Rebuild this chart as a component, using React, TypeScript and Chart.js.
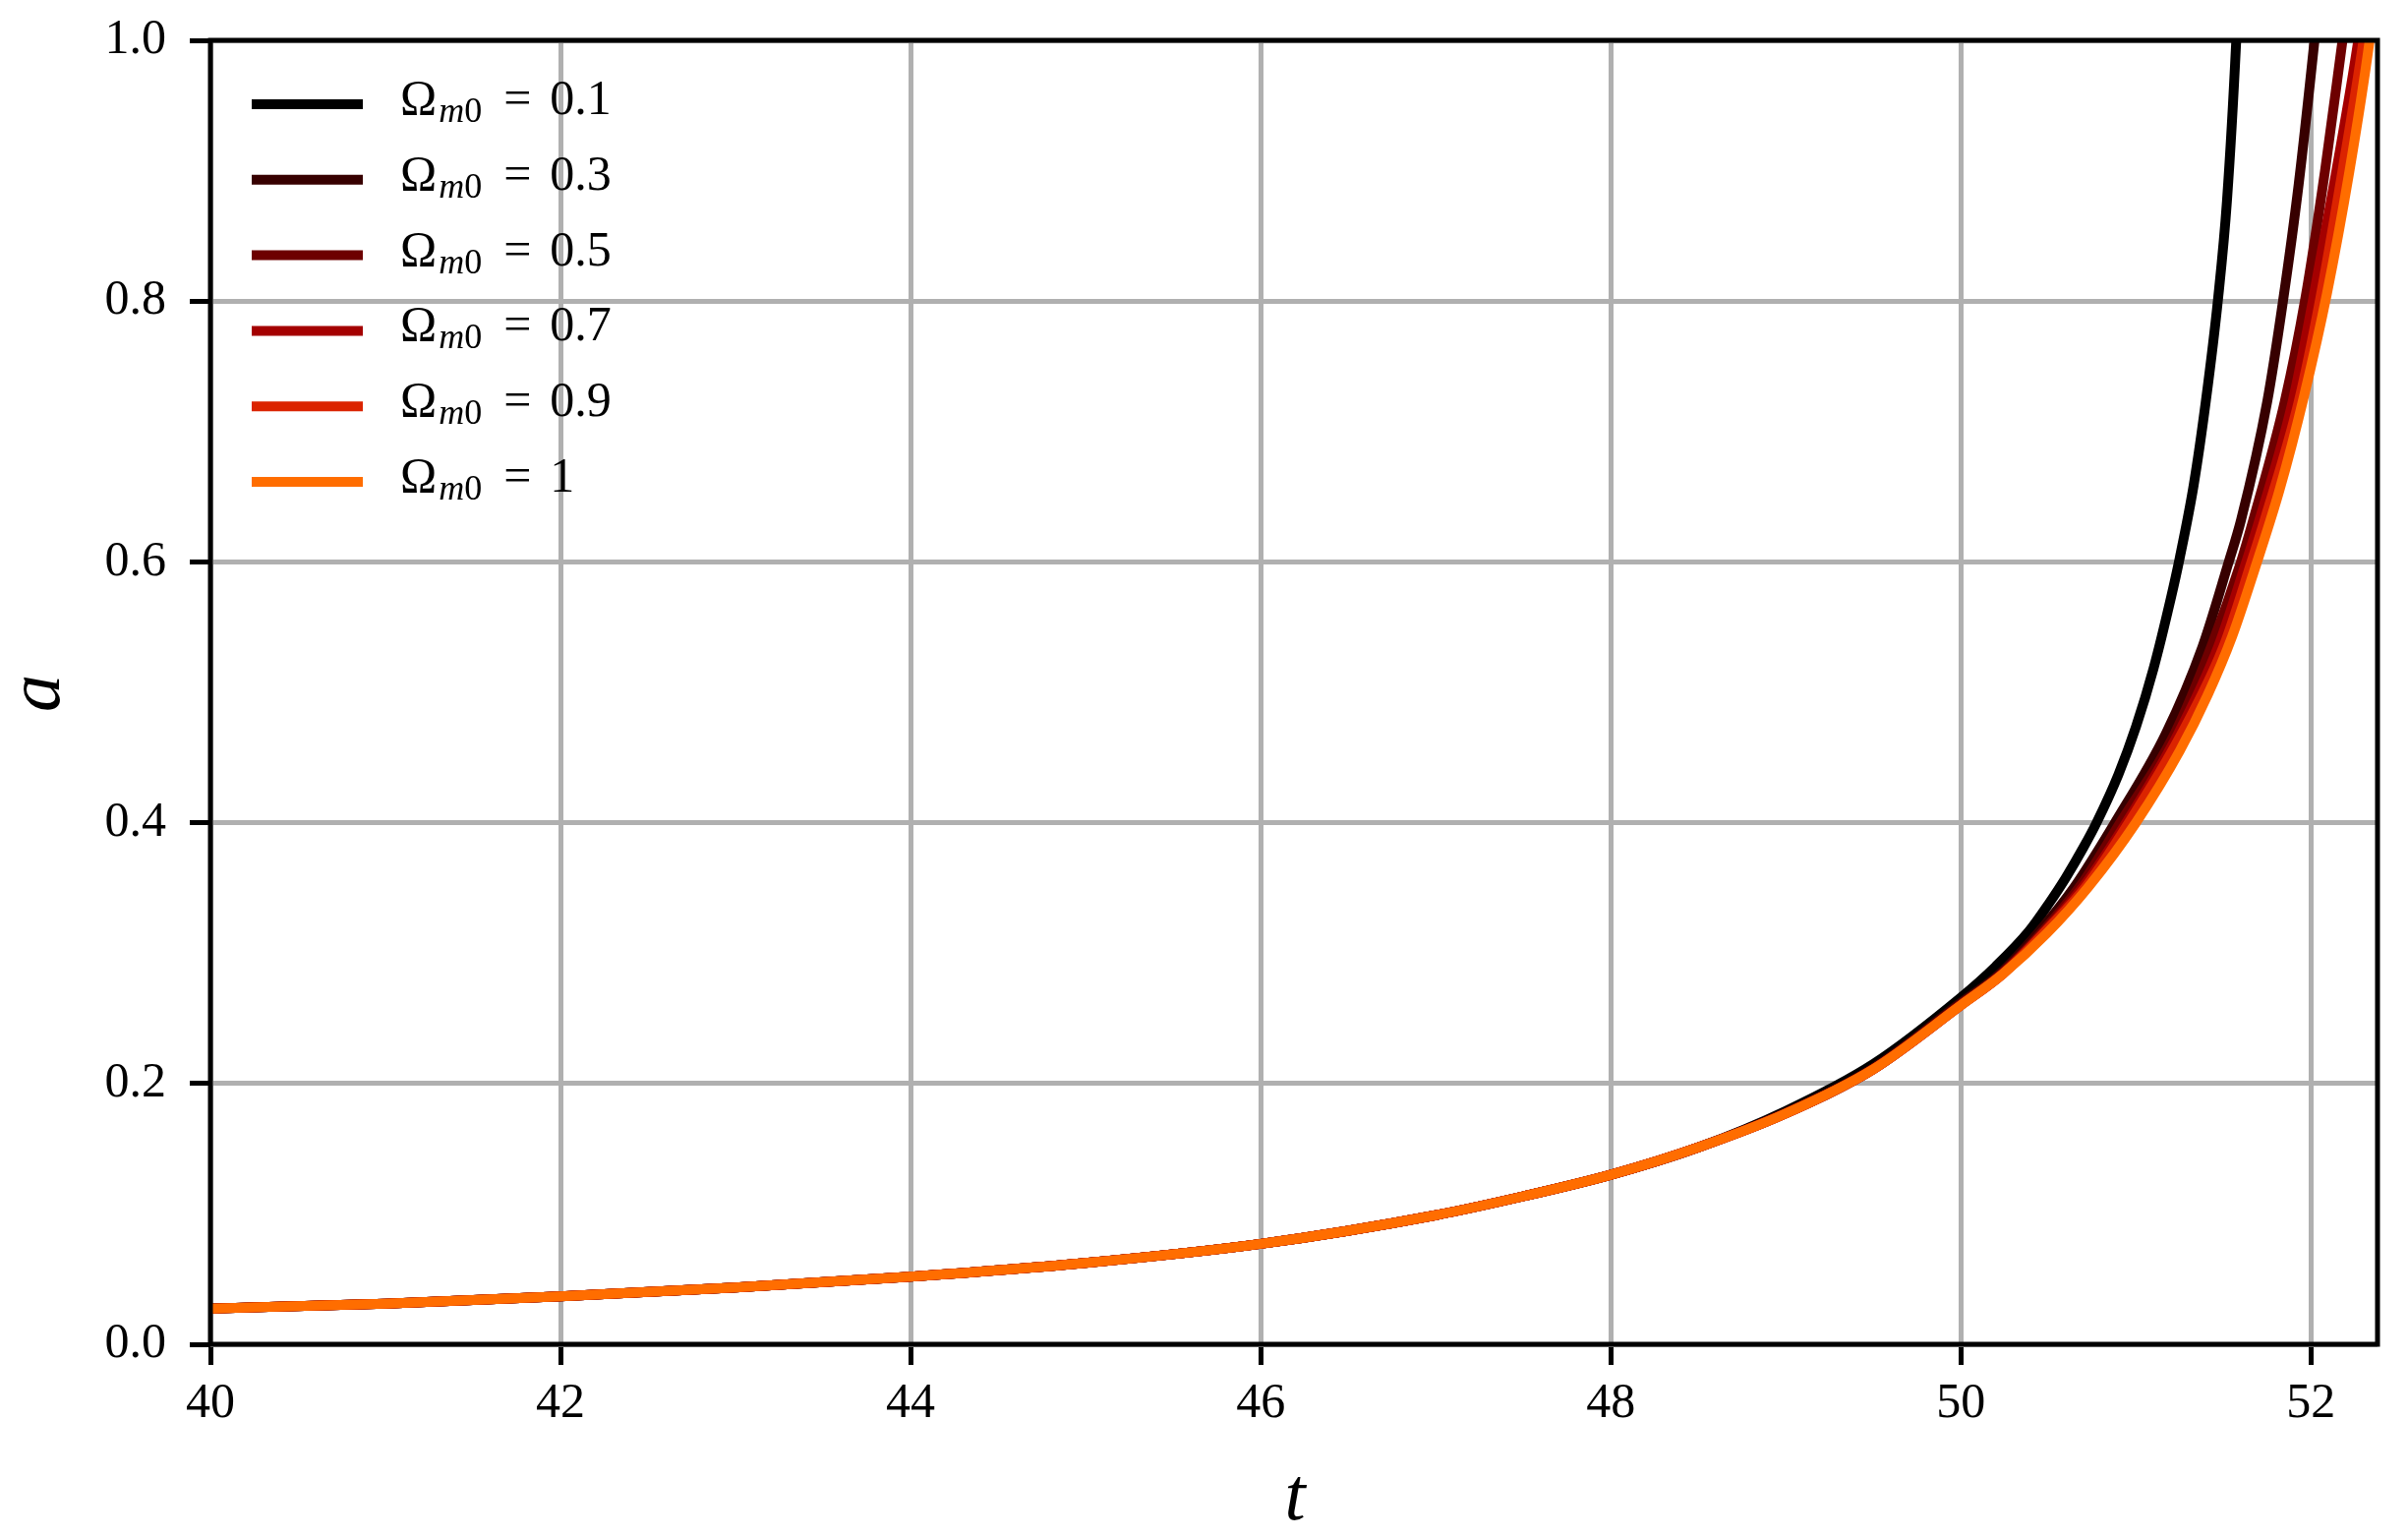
import React, { useEffect, useRef } from "react";
import { Chart, registerables } from "chart.js";

Chart.register(...registerables);

// ---- data ----
const omegaLabels = ["0.1", "0.3", "0.5", "0.7", "0.9", "1"];
const seriesColors = ["#000000", "#370000", "#6d0000", "#a40000", "#db2400", "#ff6d00"];

// shared early part (all curves coincide)
const tCommon = [40, 41, 42, 43, 44, 45, 46, 47, 47.5, 48, 48.5];
const aCommon = [0.0274, 0.0312, 0.0367, 0.0435, 0.0518, 0.0624, 0.077, 0.099, 0.1135, 0.13, 0.151];

// tails (diverging part)
const tTail01 = [49, 49.5, 50, 50.2, 50.39, 50.5, 50.6, 50.7, 50.775, 50.9, 51.0, 51.1, 51.2, 51.25, 51.33, 51.4, 51.47, 51.52, 51.573, 51.6];
const aTail01 = [0.179, 0.215, 0.266, 0.29, 0.317, 0.3375, 0.358, 0.381, 0.4, 0.437, 0.4735, 0.518, 0.5725, 0.603, 0.659, 0.724, 0.803, 0.877, 1.0, 1.086];

const tTail03 = [49, 49.5, 50, 50.22, 50.45, 50.65, 50.88, 51.17, 51.38, 51.53, 51.6, 51.75, 51.84, 51.93, 52.02, 52.05];
const aTail03 = [0.178, 0.212, 0.262, 0.284, 0.317, 0.351, 0.4, 0.468, 0.535, 0.6, 0.632, 0.723, 0.8, 0.89, 1.0, 1.04];

const tTail05 = [49, 49.5, 50, 50.23, 50.47, 50.69, 50.91, 51.22, 51.43, 51.6, 51.67, 51.85, 51.965, 52.08, 52.18, 52.22];
const aTail05 = [0.177, 0.211, 0.261, 0.284, 0.317, 0.353, 0.4, 0.468, 0.535, 0.6, 0.632, 0.723, 0.8, 0.9, 1.0, 1.04];

const tTail07 = [49, 49.5, 50, 50.235, 50.48, 50.71, 50.93, 51.24, 51.47, 51.63, 51.705, 51.895, 52.01, 52.145, 52.27, 52.31];
const aTail07 = [0.177, 0.211, 0.26, 0.284, 0.317, 0.353, 0.397, 0.468, 0.535, 0.6, 0.632, 0.723, 0.8, 0.9, 1.0, 1.04];

const tTail09 = [49, 49.5, 50, 50.24, 50.485, 50.72, 50.95, 51.26, 51.5, 51.66, 51.735, 51.93, 52.05, 52.18, 52.3, 52.34];
const aTail09 = [0.177, 0.211, 0.26, 0.284, 0.317, 0.352, 0.398, 0.468, 0.535, 0.6, 0.632, 0.723, 0.8, 0.9, 1.0, 1.04];

const tTail10 = [49, 49.5, 50, 50.24, 50.49, 50.73, 51.0, 51.25, 51.41, 51.55, 51.675, 51.82, 51.96, 52.09, 52.22, 52.335, 52.38];
const aTail10 = [0.177, 0.211, 0.26, 0.284, 0.315, 0.351, 0.4, 0.455, 0.498, 0.543, 0.593, 0.655, 0.727, 0.805, 0.9, 1.0, 1.05];

const tTails = [tTail01, tTail03, tTail05, tTail07, tTail09, tTail10];
const aTails = [aTail01, aTail03, aTail05, aTail07, aTail09, aTail10];

const xMin = 40;
const xMax = 52.38;
const xStep = 2;
const yMin = 0;
const yMax = 1;
const yStep = 0.2;

const FONT = "'Liberation Serif', 'DejaVu Serif', serif";

function buildPoints(i: number) {
  const pts: { x: number; y: number }[] = [];
  tCommon.forEach((t, k) => pts.push({ x: t, y: aCommon[k] }));
  tTails[i].forEach((t, k) => pts.push({ x: t, y: aTails[i][k] }));
  return pts;
}

const overlayPlugin = {
  id: "overlay",
  afterDatasetsDraw(chart: any) {
    const { ctx, chartArea: ca } = chart;
    ctx.save();
    // spines
    ctx.strokeStyle = "#000";
    ctx.lineWidth = 5;
    ctx.strokeRect(ca.left, ca.top, ca.right - ca.left, ca.bottom - ca.top);

    // legend
    const lx0 = ca.left + 42;
    const lx1 = ca.left + 155;
    const tx = ca.left + 193;
    const row0 = ca.top + 65;
    const rowGap = 76.8;
    omegaLabels.forEach((lab, i) => {
      const y = row0 + i * rowGap;
      ctx.strokeStyle = seriesColors[i];
      ctx.lineWidth = 10;
      ctx.lineCap = "butt";
      ctx.beginPath();
      ctx.moveTo(lx0, y);
      ctx.lineTo(lx1, y);
      ctx.stroke();

      const base = y + 10;
      ctx.fillStyle = "#000";
      ctx.textAlign = "left";
      ctx.textBaseline = "alphabetic";
      let x = tx;
      ctx.font = `50px ${FONT}`;
      ctx.fillText("Ω", x, base);
      x += ctx.measureText("Ω").width + 2;
      ctx.font = `italic 36px ${FONT}`;
      ctx.fillText("m", x, base + 8);
      x += ctx.measureText("m").width;
      ctx.font = `36px ${FONT}`;
      ctx.fillText("0", x, base + 8);
      x += ctx.measureText("0").width + 22;
      ctx.font = `50px ${FONT}`;
      ctx.fillText("=", x, base);
      x += ctx.measureText("=").width + 19;
      ctx.fillText(lab, x, base);
    });
    ctx.restore();
  },
  afterDraw(chart: any) {
    const { ctx } = chart;
    ctx.save();
    ctx.fillStyle = "#000";
    ctx.font = `italic 76px ${FONT}`;
    ctx.textAlign = "center";
    ctx.textBaseline = "alphabetic";
    ctx.fillText("t", 1317, 1545);
    ctx.translate(60, 705);
    ctx.rotate(-Math.PI / 2);
    ctx.fillText("a", 0, 0);
    ctx.restore();
  },
};

export default function App() {
  const canvasRef = useRef<HTMLCanvasElement | null>(null);

  useEffect(() => {
    const canvas = canvasRef.current;
    if (!canvas) return;
    const datasets = omegaLabels.map((lab, i) => ({
      label: `Ω_m0 = ${lab}`,
      data: buildPoints(i),
      borderColor: seriesColors[i],
      backgroundColor: seriesColors[i],
      borderWidth: 10,
      pointRadius: 0,
      fill: false,
      cubicInterpolationMode: "monotone" as const,
      order: omegaLabels.length - 1 - i,
    }));

    const chart = new Chart(canvas, {
      type: "line",
      data: { datasets },
      options: {
        animation: false,
        responsive: false,
        devicePixelRatio: 1,
        layout: { padding: { left: 0, right: 31, top: 41, bottom: 0 } },
        plugins: {
          legend: { display: false },
          tooltip: { enabled: false },
        },
        scales: {
          x: {
            type: "linear",
            min: xMin,
            max: xMax,
            afterFit: (s: any) => {
              s.height = 197;
              s.paddingLeft = 0;
              s.paddingRight = 0;
            },
            border: { display: false },
            grid: {
              color: "#b0b0b0",
              lineWidth: 5,
              drawTicks: true,
              tickLength: 21,
              tickColor: "#000",
              tickWidth: 5,
            },
            ticks: {
              stepSize: xStep,
              includeBounds: false,
              color: "#000",
              padding: 10,
              font: { family: FONT, size: 50 },
              maxRotation: 0,
              callback: (v: any) => String(v),
            },
          },
          y: {
            type: "linear",
            min: yMin,
            max: yMax,
            afterFit: (s: any) => {
              s.width = 214;
              s.paddingTop = 0;
              s.paddingBottom = 0;
            },
            border: { display: false },
            grid: {
              color: "#b0b0b0",
              lineWidth: 5,
              drawTicks: true,
              tickLength: 21,
              tickColor: "#000",
              tickWidth: 5,
            },
            ticks: {
              stepSize: yStep,
              color: "#000",
              padding: 24,
              font: { family: FONT, size: 50 },
              callback: (v: any) => Number(v).toFixed(1),
            },
          },
        },
      },
      plugins: [overlayPlugin],
    } as any);

    return () => {
      chart.destroy();
    };
  }, []);

  return (
    <div style={{ position: "fixed", left: 0, top: 0, width: 2449, height: 1564, background: "#fff" }}>
      <canvas ref={canvasRef} width={2449} height={1564} style={{ display: "block" }} />
    </div>
  );
}
